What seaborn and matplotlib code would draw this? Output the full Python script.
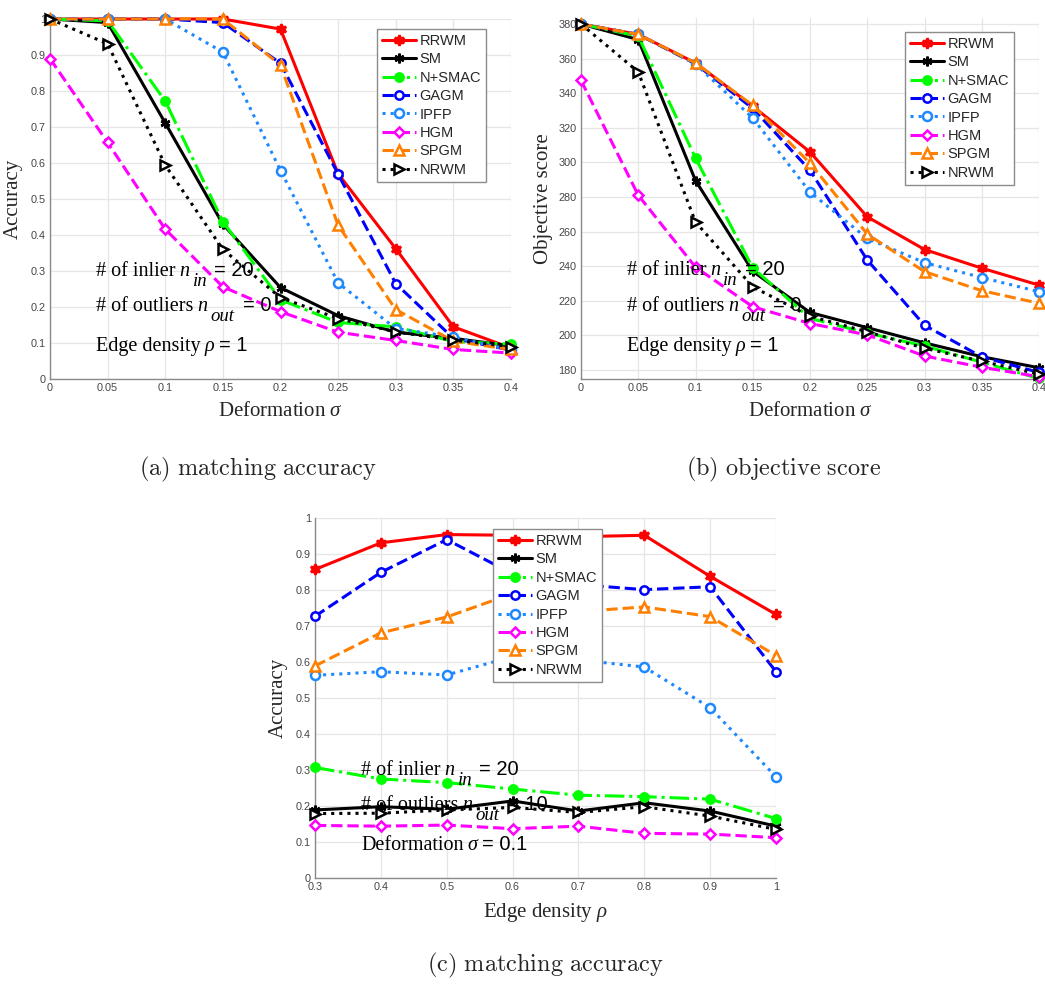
import numpy as np
import pandas as pd
import seaborn as sns
import matplotlib
matplotlib.use("Agg")
import matplotlib.pyplot as plt
import matplotlib.transforms as mtransforms
from matplotlib.font_manager import FontProperties

# ---------------- data ----------------
methods = ["RRWM", "SM", "N+SMAC", "GAGM", "IPFP", "HGM", "SPGM", "NRWM"]

sigma = [0, 0.05, 0.1, 0.15, 0.2, 0.25, 0.3, 0.35, 0.4]
sigma_ticks = ["0", "0.05", "0.1", "0.15", "0.2", "0.25", "0.3", "0.35", "0.4"]

accuracy_sigma = {
    "RRWM":   [1.0, 1.0, 1.0, 1.0, 0.972, 0.570, 0.362, 0.145, 0.086],
    "SM":     [1.0, 0.990, 0.711, 0.430, 0.254, 0.176, 0.130, 0.113, 0.092],
    "N+SMAC": [1.0, 0.995, 0.772, 0.437, 0.220, 0.157, 0.145, 0.104, 0.097],
    "GAGM":   [1.0, 1.0, 1.0, 0.990, 0.877, 0.569, 0.265, 0.113, 0.080],
    "IPFP":   [1.0, 1.0, 1.0, 0.908, 0.579, 0.267, 0.140, 0.117, 0.080],
    "HGM":    [0.890, 0.657, 0.416, 0.256, 0.187, 0.130, 0.107, 0.082, 0.072],
    "SPGM":   [1.0, 1.0, 1.0, 1.0, 0.872, 0.427, 0.193, 0.105, 0.082],
    "NRWM":   [1.0, 0.931, 0.594, 0.360, 0.226, 0.168, 0.131, 0.108, 0.090],
}

objective_sigma = {
    "RRWM":   [380, 374, 357.5, 332.5, 306, 268.5, 249.6, 238.8, 229],
    "SM":     [380, 371, 289.5, 237, 213.2, 204.4, 195.6, 187.6, 181.2],
    "N+SMAC": [380, 373, 302.5, 239, 209.8, 201.3, 193.8, 184.4, 175],
    "GAGM":   [380, 374, 357, 331.2, 295.4, 243.5, 205.8, 187.5, 178.5],
    "IPFP":   [380, 374, 357, 325.6, 282.8, 256, 242, 233.4, 225.2],
    "HGM":    [347.4, 281, 239.4, 216.5, 206.8, 200.2, 188, 181.5, 176],
    "SPGM":   [380, 374, 357.5, 333, 299.5, 258.5, 236.8, 225.8, 218.5],
    "NRWM":   [380, 352.3, 265.5, 228, 211, 202, 192.5, 185, 177.5],
}

rho = [0.3, 0.4, 0.5, 0.6, 0.7, 0.8, 0.9, 1.0]
rho_ticks = ["0.3", "0.4", "0.5", "0.6", "0.7", "0.8", "0.9", "1"]

accuracy_rho = {
    "RRWM":   [0.857, 0.931, 0.954, 0.952, 0.948, 0.952, 0.838, 0.732],
    "SM":     [0.189, 0.198, 0.191, 0.214, 0.186, 0.209, 0.186, 0.144],
    "N+SMAC": [0.307, 0.275, 0.265, 0.247, 0.230, 0.226, 0.219, 0.165],
    "GAGM":   [0.727, 0.849, 0.940, 0.845, 0.815, 0.801, 0.809, 0.573],
    "IPFP":   [0.563, 0.573, 0.564, 0.615, 0.606, 0.586, 0.473, 0.281],
    "HGM":    [0.146, 0.144, 0.147, 0.137, 0.144, 0.124, 0.122, 0.112],
    "SPGM":   [0.589, 0.681, 0.725, 0.790, 0.740, 0.753, 0.726, 0.618],
    "NRWM":   [0.179, 0.180, 0.189, 0.196, 0.182, 0.198, 0.172, 0.135],
}

# ---------------- styles ----------------
styles = {
    "RRWM":   dict(color="#ff0000", ls="-",  marker=(6, 1, 0), mfc="#ff0000"),
    "SM":     dict(color="#000000", ls="-",  marker=(6, 2, 0), mfc="#000000"),
    "N+SMAC": dict(color="#00ff00", ls="-.", marker="o", mfc="#00ff00"),
    "GAGM":   dict(color="#0000ff", ls="--", marker="o", mfc="white"),
    "IPFP":   dict(color="#1e88ff", ls=":",  marker="o", mfc="white"),
    "HGM":    dict(color="#ff00ff", ls="--", marker="D", mfc="white"),
    "SPGM":   dict(color="#ff8000", ls="--", marker="^", mfc="white"),
    "NRWM":   dict(color="#000000", ls=":",  marker=">", mfc="white"),
}
marker_sizes = {"RRWM": 7.5, "SM": 7, "N+SMAC": 6, "GAGM": 6, "IPFP": 6.5,
                "HGM": 5.5, "SPGM": 6.5, "NRWM": 6.5}

sns.set_style("white")
plt.rcParams["font.family"] = ["Liberation Sans", "DejaVu Sans"]
plt.rcParams["mathtext.fontset"] = "custom"
plt.rcParams["mathtext.rm"] = "Liberation Serif"
plt.rcParams["mathtext.it"] = "Liberation Serif:italic"
plt.rcParams["mathtext.bf"] = "Liberation Serif:bold"

SERIF = "Liberation Serif"
TICK_COLOR = "#454545"
GRID_COLOR = "#e6e6e6"
SPINE_COLOR = "#8a8a8a"

fig = plt.figure(figsize=(10.45, 9.89), dpi=100)
W, H = 1045, 989


def axes_px(left, top, right, bottom):
    return fig.add_axes([left / W, 1 - bottom / H, (right - left) / W, (bottom - top) / H])


ax_a = axes_px(50, 19, 511, 379)
ax_b = axes_px(581, 18, 1039, 379)
ax_c = axes_px(315, 518, 776, 878)


def draw_series(ax, xvals, table):
    for name in methods:
        st = styles[name]
        df = pd.DataFrame({"x": xvals, "y": table[name]})
        sns.lineplot(data=df, x="x", y="y", ax=ax, color=st["color"],
                     linestyle=st["ls"], marker=st["marker"],
                     markerfacecolor=st["mfc"], markeredgecolor=st["color"],
                     markersize=marker_sizes[name], markeredgewidth=1.8,
                     linewidth=2.2, label=name, legend=False,
                     errorbar=None, clip_on=False, zorder=3)


def style_axes(ax, xlim, ylim, xticks, xticklabels, yticks, yticklabels):
    ax.set_xlim(*xlim)
    ax.set_ylim(*ylim)
    ax.set_xticks(xticks)
    ax.set_xticklabels(xticklabels)
    ax.set_yticks(yticks)
    ax.set_yticklabels(yticklabels)
    ax.grid(True, color=GRID_COLOR, linewidth=0.9, zorder=0)
    ax.set_axisbelow(True)
    for side in ("top", "right"):
        ax.spines[side].set_visible(False)
    for side in ("left", "bottom"):
        ax.spines[side].set_color(SPINE_COLOR)
        ax.spines[side].set_linewidth(1.0)
    ax.tick_params(axis="both", length=0, pad=3, labelsize=7.8,
                   labelcolor=TICK_COLOR)
    for lab in ax.get_xticklabels() + ax.get_yticklabels():
        lab.set_fontfamily("Liberation Sans")


def add_legend(ax, **kw):
    leg = ax.legend(prop=FontProperties(family="Liberation Sans", size=10.5),
                    frameon=True, fancybox=False, edgecolor="#8c8c8c",
                    framealpha=1.0, handlelength=2.3, handletextpad=0.25,
                    labelspacing=0.3, borderpad=0.35, borderaxespad=0.0, **kw)
    leg.get_frame().set_linewidth(1.0)
    leg.set_zorder(5)
    return leg


renderer = fig.canvas.get_renderer()


def text_runs(ax, x, y, runs):
    """Write a line made of several differently styled pieces."""
    dx = 0.0
    for s, props, dy, gap in runs:
        tr = mtransforms.offset_copy(ax.transAxes, fig=fig, x=dx, y=dy, units="dots")
        t = ax.text(x, y, s, transform=tr, ha="left", va="baseline", zorder=4, **props)
        dx += t.get_window_extent(renderer=renderer).width + gap


serif = dict(fontfamily=SERIF, fontsize=14.5, color="black")
serif_it = dict(fontfamily=SERIF, fontstyle="italic", fontsize=14.5, color="black")
sub_it = dict(fontfamily=SERIF, fontstyle="italic", fontsize=13.5, color="black")
sans = dict(fontfamily="Liberation Sans", fontsize=14.5, color="black")


def settings_text(ax, n_in, n_out, third_name, third_sym, third_val):
    text_runs(ax, 0.10, 0.287, [("# of inlier", serif, 0, 4), ("n", serif_it, 0, 3),
                                ("in", sub_it, -10, 7), ("= " + n_in, sans, 0, 0)])
    text_runs(ax, 0.10, 0.189, [("# of outliers", serif, 0, 4), ("n", serif_it, 0, 3),
                                ("out", sub_it, -10, 8), ("= " + n_out, sans, 0, 0)])
    text_runs(ax, 0.10, 0.077, [(third_name, serif, 0, 4), (third_sym, serif_it, 0, 5),
                                ("= " + third_val, sans, 0, 0)])


label_font = dict(fontfamily=SERIF, fontsize=15)

# (a) accuracy vs deformation
draw_series(ax_a, sigma, accuracy_sigma)
style_axes(ax_a, (0, 0.4), (0, 1), sigma, sigma_ticks,
           np.arange(0, 1.01, 0.1), ["0"] + [f"{v:.1f}" for v in np.arange(0.1, 0.95, 0.1)] + ["1"])
ax_a.set_xlabel(r"Deformation $\sigma$", labelpad=6, **label_font)
ax_a.set_ylabel("Accuracy", labelpad=6, **label_font)
add_legend(ax_a, loc="upper right", bbox_to_anchor=(1 - 25 / 461, 1 - 10 / 360))
settings_text(ax_a, "20", "0", "Edge density", "ρ", "1")

# (b) objective score vs deformation
draw_series(ax_b, sigma, objective_sigma)
yb = np.arange(180, 381, 20)
style_axes(ax_b, (0, 0.4), (174.7, 383.5), sigma, sigma_ticks, yb, [str(v) for v in yb])
ax_b.set_xlabel(r"Deformation $\sigma$", labelpad=6, **label_font)
ax_b.set_ylabel("Objective score", labelpad=4, **label_font)
add_legend(ax_b, loc="upper right", bbox_to_anchor=(1 - 25 / 458, 1 - 14 / 361))
settings_text(ax_b, "20", "0", "Edge density", "ρ", "1")

# (c) accuracy vs edge density
draw_series(ax_c, rho, accuracy_rho)
style_axes(ax_c, (0.3, 1.0), (0, 1), rho, rho_ticks,
           np.arange(0, 1.01, 0.1), ["0"] + [f"{v:.1f}" for v in np.arange(0.1, 0.95, 0.1)] + ["1"])
ax_c.set_xlabel(r"Edge density $\rho$", labelpad=6, **label_font)
ax_c.set_ylabel("Accuracy", labelpad=6, **label_font)
add_legend(ax_c, loc="upper left", bbox_to_anchor=((493 - 315) / 461, 1 - 11 / 360))
settings_text(ax_c, "20", "10", "Deformation", "σ", "0.1")

# sub-figure captions
cap = dict(fontsize=17.5, ha="center", va="center", math_fontfamily="cm")
fig.text(258 / W, 1 - 469 / H, r"$\mathrm{(a)\ matching\ accuracy}$", **cap)
fig.text(784 / W, 1 - 469 / H, r"$\mathrm{(b)\ objective\ score}$", **cap)
fig.text(545 / W, 1 - 965 / H, r"$\mathrm{(c)\ matching\ accuracy}$", **cap)

fig.savefig("out.png", dpi=100, facecolor="white")
